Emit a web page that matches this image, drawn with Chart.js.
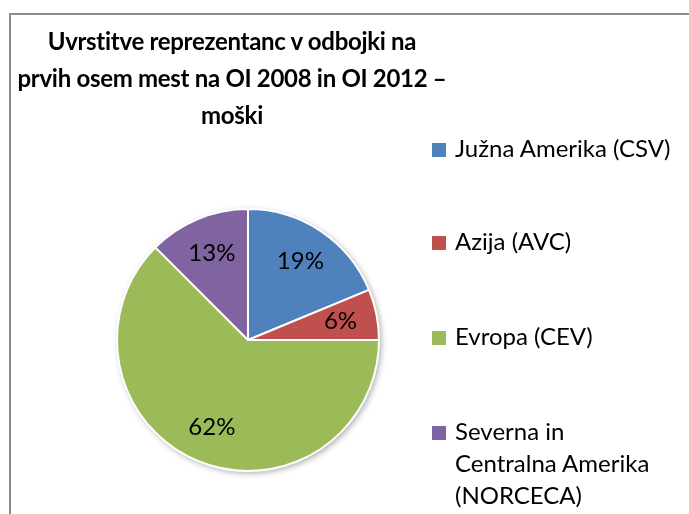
<!DOCTYPE html>
<html>
<head>
<meta charset="utf-8">
<script src="https://cdn.jsdelivr.net/npm/chart.js@4/dist/chart.umd.min.js"></script>
<style>
  html, body { margin: 0; padding: 0; background: #fff; }
  #wrap { position: relative; width: 689px; height: 514px; overflow: hidden; font-family: Lato, "Open Sans", sans-serif; }
  #frame { position: absolute; left: 9px; top: 13px; width: 700px; height: 520px;
    border-top: 2px solid #8c8c8c; border-left: 2px solid #8c8c8c; }
  #title { position: absolute; left: -20px; width: 504px; top: 22px; text-align: center; white-space: nowrap;
    font-weight: bold; font-size: 24px; letter-spacing: -0.3px; line-height: 37px; color: #000; }
  #legend { position: absolute; left: 432px; top: 0; font-size: 24px; color: #000; }
  .item { position: absolute; left: 0; white-space: nowrap; line-height: 32px; }
  .box { position: absolute; left: 0; top: 11px; width: 14px; height: 14px; }
  .txt { position: absolute; left: 23px; top: 0; }
  #c { position: absolute; left: 0; top: 0; }
</style>
</head>
<body>
<div id="wrap">
  <div id="frame"></div>
  <canvas id="c" width="689" height="514"></canvas>
  <div id="title"></div>
  <div id="legend"></div>
</div>
<script>
// chart data
const titleLines = ['Uvrstitve reprezentanc v odbojki na', 'prvih osem mest na OI 2008 in OI 2012 –', 'moški'];
const categories = ['Južna Amerika (CSV)', 'Azija (AVC)', 'Evropa (CEV)', 'Severna in\nCentralna Amerika\n(NORCECA)'];
const teamCounts = [3, 1, 10, 2];
const percentLabels = ['19%', '6%', '62%', '13%'];
const sliceColors = ['#4f81bd', '#c0504d', '#9bbb59', '#8064a2'];

document.getElementById('title').innerHTML = titleLines.join('<br>');

// legend on the right
const legendTops = [132, 225, 320, 415];
const legendEl = document.getElementById('legend');
categories.forEach((cat, i) => {
  const item = document.createElement('div');
  item.className = 'item';
  item.style.top = legendTops[i] + 'px';
  const box = document.createElement('div');
  box.className = 'box';
  box.style.background = sliceColors[i];
  const txt = document.createElement('div');
  txt.className = 'txt';
  txt.innerHTML = cat.split('\n').join('<br>');
  item.appendChild(box);
  item.appendChild(txt);
  legendEl.appendChild(item);
});

// soft shadow under the pie, like the original
const pieShadow = {
  id: 'pieShadow',
  beforeDatasetsDraw(chart) {
    const arc = chart.getDatasetMeta(0).data[0];
    if (!arc) return;
    const ctx = chart.ctx;
    ctx.save();
    ctx.shadowColor = 'rgba(0,0,0,0.35)';
    ctx.shadowBlur = 6;
    ctx.shadowOffsetX = 2;
    ctx.shadowOffsetY = 2;
    ctx.fillStyle = '#fff';
    ctx.beginPath();
    ctx.arc(arc.x, arc.y, arc.outerRadius, 0, Math.PI * 2);
    ctx.fill();
    ctx.restore();
  }
};

// percent labels inside the slices
const sliceLabels = {
  id: 'sliceLabels',
  afterDatasetsDraw(chart) {
    const ctx = chart.ctx;
    ctx.save();
    ctx.font = '24px Lato, "Open Sans", sans-serif';
    ctx.fillStyle = '#000';
    ctx.textAlign = 'center';
    ctx.textBaseline = 'middle';
    chart.getDatasetMeta(0).data.forEach((arc, i) => {
      const mid = (arc.startAngle + arc.endAngle) / 2;
      const r = arc.outerRadius * 0.72;
      ctx.fillText(percentLabels[i], arc.x + Math.cos(mid) * r, arc.y + Math.sin(mid) * r);
    });
    ctx.restore();
  }
};

new Chart(document.getElementById('c').getContext('2d'), {
  type: 'pie',
  data: {
    labels: categories,
    datasets: [{
      data: teamCounts,
      backgroundColor: sliceColors,
      borderColor: '#ffffff',
      borderWidth: 2
    }]
  },
  options: {
    responsive: false,
    animation: false,
    layout: { padding: { left: 116, right: 309, top: 208, bottom: 42 } },
    plugins: {
      legend: { display: false },
      title: { display: false },
      tooltip: { enabled: false }
    }
  },
  plugins: [pieShadow, sliceLabels]
});
</script>
</body>
</html>
